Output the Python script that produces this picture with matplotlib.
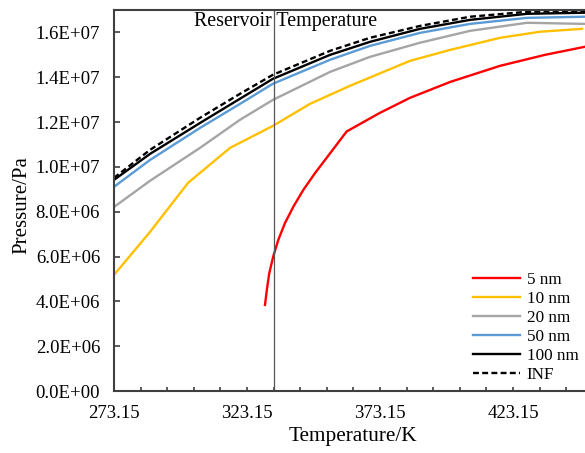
import matplotlib
matplotlib.use("Agg")
import matplotlib.pyplot as plt
from matplotlib.ticker import FixedLocator, FuncFormatter

plt.rcParams['font.family'] = ['Liberation Serif', 'DejaVu Serif']

# temperatures (K), pressures in 1e6 Pa
T_main = [273.15, 286.7, 305.5, 320.5, 332.9, 354.4, 369.4, 388.2, 407.0, 428.4, 450.2]
p_inf = [9.51, 10.76, 12.19, 13.26, 14.11, 15.18, 15.76, 16.29, 16.70, 16.92, 16.96]
p_100 = [9.42, 10.58, 11.96, 13.04, 13.93, 15.00, 15.58, 16.16, 16.56, 16.83, 16.88]
p_50 = [9.11, 10.31, 11.74, 12.81, 13.71, 14.78, 15.40, 15.98, 16.38, 16.65, 16.70]
p_20 = [8.21, 9.38, 10.85, 12.10, 12.99, 14.24, 14.91, 15.54, 16.07, 16.43, 16.38]

T_10 = [273.15, 286.7, 301.0, 316.8, 332.9, 346.8, 361.9, 384.4, 399.5, 418.3, 433.3, 449.1]
p_10 = [5.18, 7.10, 9.29, 10.85, 11.83, 12.81, 13.62, 14.73, 15.22, 15.76, 16.03, 16.16]

T_5 = [329.9, 330.6, 331.5, 333.0, 334.9, 337.4, 340.6, 344.3, 348.7, 354.4, 360.6,
       373.1, 384.4, 399.5, 418.3, 435.2, 450.2]
p_5 = [3.84, 4.51, 5.25, 6.00, 6.74, 7.49, 8.23, 8.97, 9.72, 10.61, 11.58,
       12.41, 13.08, 13.79, 14.51, 15.00, 15.36]

T_reservoir = 333.15

series = [
    ("5 nm", T_5, p_5, "#FF0000", "-"),
    ("10 nm", T_10, p_10, "#FFC000", "-"),
    ("20 nm", T_main, p_20, "#A5A5A5", "-"),
    ("50 nm", T_main, p_50, "#5B9BD5", "-"),
    ("100 nm", T_main, p_100, "#000000", "-"),
    ("INF", T_main, p_inf, "#000000", (0, (2.5, 1.4))),
]

fig = plt.figure(figsize=(5.85, 4.53), dpi=100)
ax = fig.add_axes([114 / 585, 1 - 391 / 453, 471 / 585, 381 / 453])

for label, t, p, c, ls in series:
    ax.plot(t, [v * 1e6 for v in p], color=c, linestyle=ls, lw=1.7, label=label)

ax.axvline(T_reservoir, color="#555555", lw=0.9)
ax.text(0.170, 0.971, "Reservoir Temperature", transform=ax.transAxes,
        ha="left", va="center", fontsize=14.4)

ax.set_xlim(273.15, 450.2)
ax.set_ylim(0, 1.7e7)

ax.xaxis.set_major_locator(FixedLocator([273.15, 323.15, 373.15, 423.15]))
ax.xaxis.set_minor_locator(FixedLocator([273.15 + 10 * i for i in range(19)]))
ax.xaxis.set_major_formatter(FuncFormatter(lambda v, pos: "%.2f" % v))
ax.yaxis.set_major_locator(FixedLocator([2e6 * i for i in range(9)]))
ax.yaxis.set_major_formatter(FuncFormatter(lambda v, pos: "%.1E" % v))

ax.tick_params(axis="x", which="both", direction="in", length=3.2, width=1.2,
               color="#404040", labelsize=13.5, pad=10)
ax.tick_params(axis="y", direction="in", length=4, width=1.2,
               color="#404040", labelsize=13.5, pad=10)

for side in ("left", "bottom", "top"):
    ax.spines[side].set_linewidth(1.5)
    ax.spines[side].set_color("#404040")
ax.spines["right"].set_visible(False)

ax.set_xlabel("Temperature/K", fontsize=15.3)
ax.set_ylabel("Pressure/Pa", fontsize=15)
ax.xaxis.set_label_coords(0.507, -0.095)
ax.yaxis.set_label_coords(-0.176, 0.488)

ax.legend(loc="upper left", bbox_to_anchor=(0.762, 0.312), bbox_transform=ax.transAxes,
          frameon=False, fontsize=12.3, handlelength=2.75, handletextpad=0.4,
          labelspacing=0.17, borderpad=0, borderaxespad=0)

fig.savefig("out.png", dpi=100)
